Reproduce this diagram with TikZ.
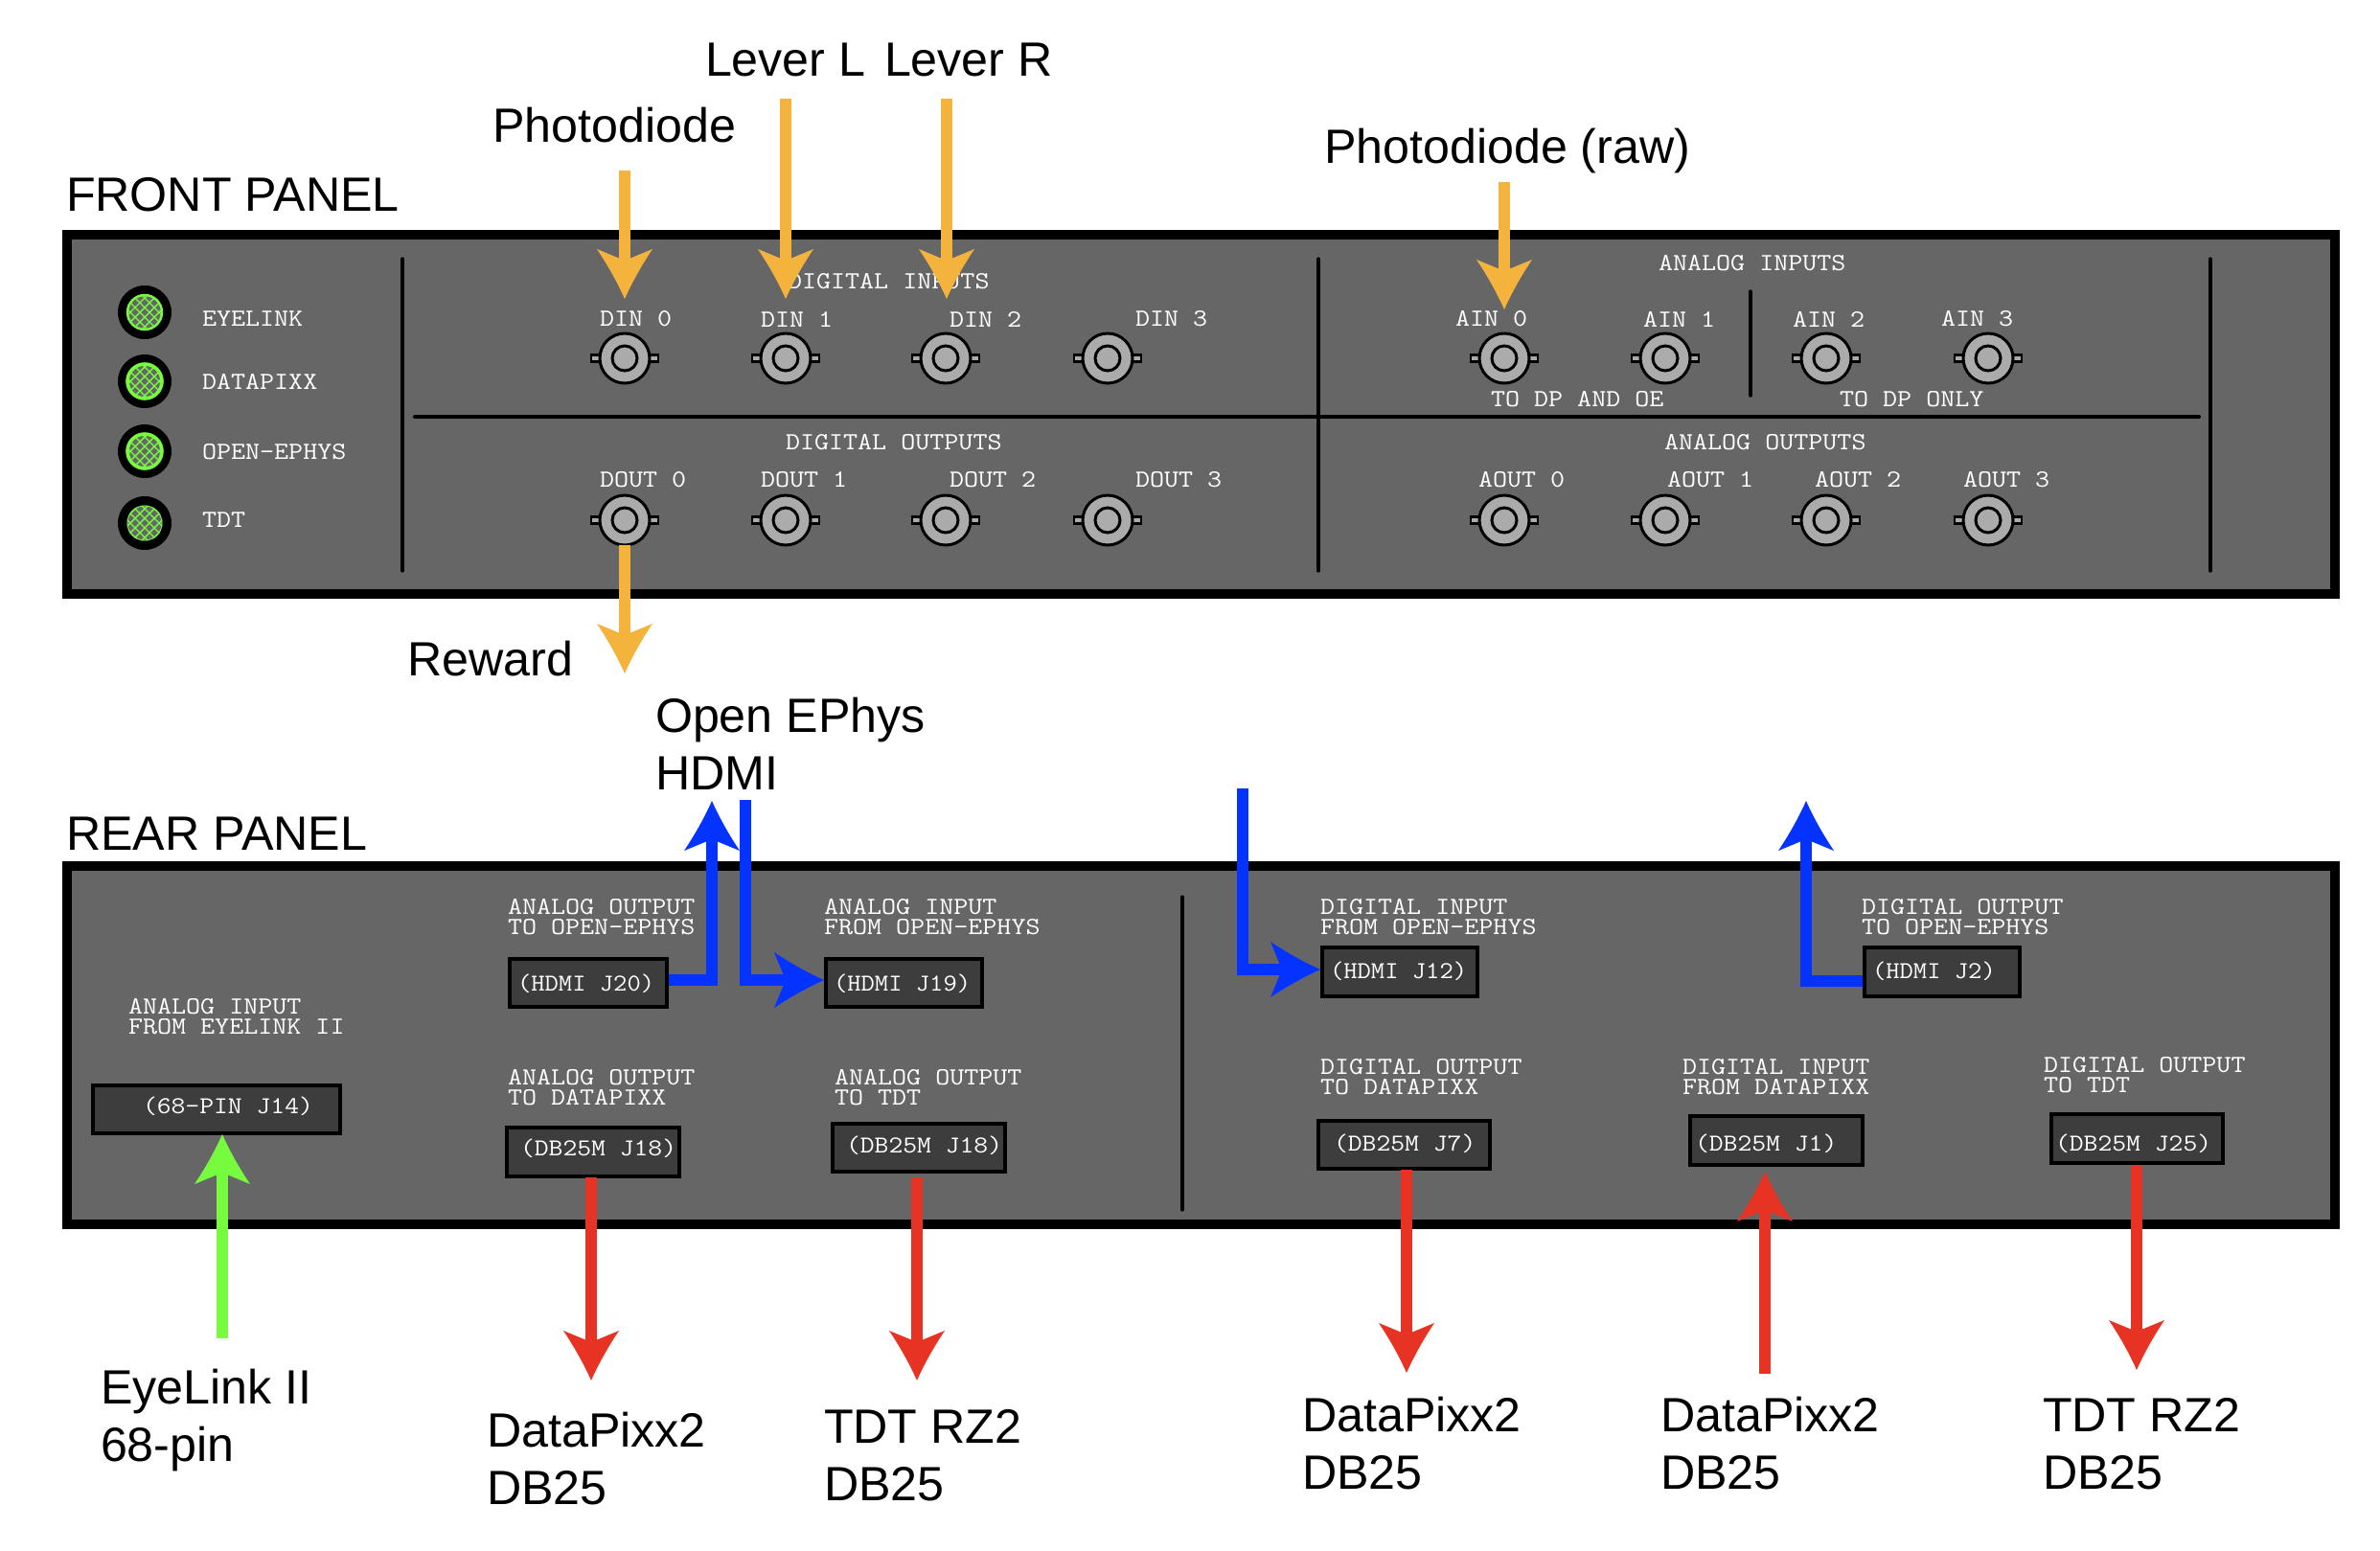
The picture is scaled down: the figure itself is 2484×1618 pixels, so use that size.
\documentclass[tikz,border=0pt]{standalone}
\usepackage{fontspec}
\usepackage{graphicx}
\setmainfont{Liberation Sans}
\usetikzlibrary{arrows.meta}
\definecolor{panelgray}{HTML}{666666}
\definecolor{jackgray}{HTML}{3D3D3D}
\definecolor{bncgray}{HTML}{ABABAB}
\definecolor{sigorange}{HTML}{F4B33D}
\definecolor{sigblue}{HTML}{0433FF}
\definecolor{sigred}{HTML}{E63323}
\definecolor{siggreen}{HTML}{76FB3F}
\pgfdeclarearrow{
  name=Vane,
  setup code={
    \pgfarrowssettipend{0pt}
    \pgfarrowssetbackend{-26pt}
    \pgfarrowssetvisualbackend{-20pt}
    \pgfarrowssetlineend{-15pt}
    \pgfarrowshullpoint{0pt}{0pt}
    \pgfarrowshullpoint{-26pt}{14.5pt}
    \pgfarrowshullpoint{-26pt}{-14.5pt}
  },
  drawing code={
    \pgfpathmoveto{\pgfpoint{0pt}{0pt}}
    \pgfpathquadraticcurveto{\pgfpoint{-13pt}{5.8pt}}{\pgfpoint{-26pt}{14.5pt}}
    \pgfpathlineto{\pgfpoint{-20pt}{0pt}}
    \pgfpathlineto{\pgfpoint{-26pt}{-14.5pt}}
    \pgfpathquadraticcurveto{\pgfpoint{-13pt}{-5.8pt}}{\pgfpoint{0pt}{0pt}}
    \pgfpathclose
    \pgfusepathqfill
  }
}
\newcommand\monotxt[1]{\scalebox{1}[0.88]{\ttfamily\fontsize{14.6}{14.6}\selectfont #1}}
\newcommand\jacktxt[1]{\scalebox{1}[0.88]{\ttfamily\fontsize{14.4}{14.4}\selectfont #1}}
\newcommand\hdmitxt[1]{\scalebox{0.965}[0.88]{\ttfamily\fontsize{14.4}{14.4}\selectfont #1}}
\newcommand\monotwo[2]{\vbox{\baselineskip=10.5pt\lineskiplimit=-100pt\hbox{\monotxt{#1}}\hbox{\monotxt{#2}}}}
\newcommand\bigtwo[2]{\vbox{\baselineskip=30pt\lineskiplimit=-100pt\hbox{#1}\hbox{#2}}}
\tikzset{
  panelbox/.style={draw=black,fill=panelgray,line width=5pt,line join=miter},
  divider/.style={draw=black,line width=1.6pt,line cap=round},
  monolabel/.style={anchor=west,inner sep=0pt,outer sep=0pt,text=white,xshift=-0.5pt},
  biglabel/.style={anchor=base west,inner sep=0pt,outer sep=0pt,text=black,xshift=-1pt,font=\fontsize{25.1}{30}\selectfont},
  jackbox/.style={draw=black,fill=jackgray,line width=1.8pt,inner sep=0pt,outer sep=0pt,rectangle},
  bncouter/.style={circle,draw=black,fill=bncgray,line width=1.5pt,minimum size=26pt,inner sep=0pt,outer sep=0pt},
  bncinner/.style={circle,draw=black,fill=bncgray,line width=1.5pt,minimum size=13pt,inner sep=0pt,outer sep=0pt},
  bncear/.style={draw=black,fill=bncgray,line width=1.2pt},
  ledring/.style={circle,fill=black,minimum size=28pt,inner sep=0pt,outer sep=0pt},
  sig/.style={line width=6.35pt,-Vane,line join=miter,line cap=butt},
  orangesig/.style={sig,draw=sigorange},
  bluesig/.style={sig,draw=sigblue},
  redsig/.style={sig,draw=sigred},
  greensig/.style={sig,draw=siggreen},
}
% name, x, y
\newcommand\bnc[3]{%
  \draw[bncear] (#2-35,#3-3.5) rectangle (#2+35,#3+3.5);
  \node[bncouter] (#1) at (#2,#3) {};
  \node[bncinner] (#1i) at (#1) {};
}
% name, y, outline width
\newcommand\led[3]{%
  \node[ledring] (#1) at (151,#2) {};
  \begin{scope}[shift={(151,#2)}]
    \begin{scope}
      \clip (0,0) circle[radius=18.5];
      \fill[panelgray] (-20,-20) rectangle (20,20);
      \foreach \d in {-45,-35,...,45} {
        \draw[siggreen,line width=0.7pt] (\d-20,-20) -- (\d+20,20);
        \draw[siggreen,line width=0.7pt] (\d-20,20) -- (\d+20,-20);
      }
    \end{scope}
    \draw[siggreen,line width=#3] (0,0) circle[radius=18];
  \end{scope}
}
% name, x1, y1, x2, y2, text x, text y, text
\newcommand\jack[8]{%
  \pgfmathsetlengthmacro\jw{(#4-#2-4)*0.5pt}%
  \pgfmathsetlengthmacro\jh{(#5-#3-4)*0.5pt}%
  \node[jackbox,minimum width=\jw,minimum height=\jh] (#1) at ({(#2+#4)/2},{(#3+#5)/2}) {};
  \node[monolabel] (#1t) at (#6-2,#7) {#8};
}
\begin{document}
\begin{tikzpicture}[x=0.5pt,y=-0.5pt]
\useasboundingbox (0,0) rectangle (2484,1618);
\fill[white] (0,0) rectangle (2484,1618);
% panels
\draw[panelbox] (70,245) rectangle (2437,620);
\draw[panelbox] (70,904) rectangle (2437,1278);
% front dividers
\draw[divider] (420,270) -- (420,596);
\draw[divider] (1376,270) -- (1376,596);
\draw[divider] (2307,270) -- (2307,596);
\draw[divider] (1827,304) -- (1827,413);
\draw[divider,line width=2pt] (433,435) -- (2295,435);
\draw[divider] (1234,936) -- (1234,1263);
% LEDs
\led{ledA}{326}{1.2pt}
\led{ledB}{398}{1.8pt}
\led{ledC}{471}{1.8pt}
\led{ledD}{546}{0.4pt}
\node[monolabel] (lA) at (212,333) {\monotxt{EYELINK}};
\node[monolabel] (lB) at (212,398) {\monotxt{DATAPIXX}};
\node[monolabel] (lC) at (212,472) {\monotxt{OPEN-EPHYS}};
\node[monolabel] (lD) at (212,543) {\monotxt{TDT}};
% BNC connectors
\bnc{din0}{652}{374}\bnc{din1}{820}{374}\bnc{din2}{987}{374}\bnc{din3}{1156}{374}
\bnc{dout0}{652}{543}\bnc{dout1}{820}{543}\bnc{dout2}{987}{543}\bnc{dout3}{1156}{543}
\bnc{ain0}{1570}{374}\bnc{ain1}{1738}{374}\bnc{ain2}{1906}{374}\bnc{ain3}{2075}{374}
\bnc{aout0}{1570}{543}\bnc{aout1}{1738}{543}\bnc{aout2}{1906}{543}\bnc{aout3}{2075}{543}
% front labels
\node[monolabel] (tdi) at (823,294) {\monotxt{DIGITAL INPUTS}};
\node[monolabel] (tdo) at (821,462) {\monotxt{DIGITAL OUTPUTS}};
\node[monolabel] (tai) at (1732,275) {\monotxt{ANALOG INPUTS}};
\node[monolabel] (tao) at (1738,462) {\monotxt{ANALOG OUTPUTS}};
\node[monolabel] (tdin0) at (627,333) {\monotxt{DIN 0}};
\node[monolabel] (tdin1) at (795,333) {\monotxt{DIN 1}};
\node[monolabel] (tdin2) at (992,333) {\monotxt{DIN 2}};
\node[monolabel] (tdin3) at (1186,333) {\monotxt{DIN 3}};
\node[monolabel] (tdout0) at (627,501) {\monotxt{DOUT 0}};
\node[monolabel] (tdout1) at (795,501) {\monotxt{DOUT 1}};
\node[monolabel] (tdout2) at (992,501) {\monotxt{DOUT 2}};
\node[monolabel] (tdout3) at (1186,501) {\monotxt{DOUT 3}};
\node[monolabel] (tain0) at (1520,333) {\monotxt{AIN 0}};
\node[monolabel] (tain1) at (1716,333) {\monotxt{AIN 1}};
\node[monolabel] (tain2) at (1872,333) {\monotxt{AIN 2}};
\node[monolabel] (tain3) at (2027,333) {\monotxt{AIN 3}};
\node[monolabel] (tdpoe) at (1557,417) {\monotxt{TO DP AND OE}};
\node[monolabel] (tdpon) at (1921,417) {\monotxt{TO DP ONLY}};
\node[monolabel] (taout0) at (1544,501) {\monotxt{AOUT 0}};
\node[monolabel] (taout1) at (1741,501) {\monotxt{AOUT 1}};
\node[monolabel] (taout2) at (1895,501) {\monotxt{AOUT 2}};
\node[monolabel] (taout3) at (2050,501) {\monotxt{AOUT 3}};
% rear labels
\node[monolabel] (r1) at (135,1061) {\monotwo{ANALOG INPUT}{FROM EYELINK II}};
\node[monolabel] (r2) at (531,957.5) {\monotwo{ANALOG OUTPUT}{TO OPEN-EPHYS}};
\node[monolabel] (r3) at (861,957.5) {\monotwo{ANALOG INPUT}{FROM OPEN-EPHYS}};
\node[monolabel] (r4) at (531,1135) {\monotwo{ANALOG OUTPUT}{TO DATAPIXX}};
\node[monolabel] (r5) at (872,1135) {\monotwo{ANALOG OUTPUT}{TO TDT}};
\node[monolabel] (r6) at (1379,957) {\monotwo{DIGITAL INPUT}{FROM OPEN-EPHYS}};
\node[monolabel] (r7) at (1944,957) {\monotwo{DIGITAL OUTPUT}{TO OPEN-EPHYS}};
\node[monolabel] (r8) at (1379,1124) {\monotwo{DIGITAL OUTPUT}{TO DATAPIXX}};
\node[monolabel] (r9) at (1757,1124) {\monotwo{DIGITAL INPUT}{FROM DATAPIXX}};
\node[monolabel] (r10) at (2134,1122) {\monotwo{DIGITAL OUTPUT}{TO TDT}};
% rear jacks
\jack{j14}{95}{1131}{357}{1185}{152}{1155}{\jacktxt{(68-PIN J14)}}
\jack{j20}{530}{999}{698}{1053}{543}{1027}{\hdmitxt{(HDMI J20)}}
\jack{j19}{860}{999}{1027}{1053}{873}{1027}{\hdmitxt{(HDMI J19)}}
\jack{j18a}{527}{1175}{711}{1230}{546}{1199}{\jacktxt{(DB25M J18)}}
\jack{j18b}{867}{1171}{1051}{1225}{886}{1196}{\jacktxt{(DB25M J18)}}
\jack{j12}{1378}{987}{1544}{1042}{1391}{1014}{\hdmitxt{(HDMI J12)}}
\jack{j2}{1944}{987}{2110}{1042}{1957}{1014}{\hdmitxt{(HDMI J2)}}
\jack{j7}{1374}{1168}{1557}{1222}{1395}{1194}{\jacktxt{(DB25M J7)}}
\jack{j1}{1762}{1163}{1946}{1218}{1772}{1194}{\jacktxt{(DB25M J1)}}
\jack{j25}{2139}{1161}{2322}{1216}{2148}{1194}{\jacktxt{(DB25M J25)}}
% big labels
\node[biglabel] (front) at (71,220) {FRONT PANEL};
\node[biglabel] (rear) at (71,887) {REAR PANEL};
\node[biglabel] (photo) at (516,148) {Photodiode};
\node[biglabel] (levl) at (738,79) {Lever L};
\node[biglabel] (levr) at (925,79) {Lever R};
\node[biglabel] (raw) at (1384,170) {Photodiode (raw)};
\node[biglabel] (reward) at (427,705) {Reward};
\node[biglabel] (oe) at (686,824) {\bigtwo{Open EPhys}{HDMI}};
\node[biglabel] (eye) at (107,1525) {\bigtwo{EyeLink II}{68-pin}};
\node[biglabel] (dp1) at (510,1570) {\bigtwo{DataPixx2}{DB25}};
\node[biglabel] (tdt1) at (862,1566) {\bigtwo{TDT RZ2}{DB25}};
\node[biglabel] (dp2) at (1361,1554) {\bigtwo{DataPixx2}{DB25}};
\node[biglabel] (dp3) at (1735,1554) {\bigtwo{DataPixx2}{DB25}};
\node[biglabel] (tdt2) at (2134,1554) {\bigtwo{TDT RZ2}{DB25}};
% connector end points
\coordinate (pdS) at (652,178);   \coordinate (pdE) at (652,312);
\coordinate (llS) at (820,103);   \coordinate (llE) at (820,312);
\coordinate (lrS) at (988,103);   \coordinate (lrE) at (988,312);
\coordinate (rawS) at (1570,190); \coordinate (rawE) at (1570,323);
\coordinate (rwE) at (652,703);
\coordinate (b1S) at (698,1023);  \coordinate (b1M) at (743,1023);  \coordinate (b1E) at (743,836);
\coordinate (b2S) at (778,835);   \coordinate (b2M) at (778,1023);  \coordinate (b2E) at (860,1023);
\coordinate (b3S) at (1297,823);  \coordinate (b3M) at (1297,1012); \coordinate (b3E) at (1378,1012);
\coordinate (b4S) at (1944,1024); \coordinate (b4M) at (1885,1024); \coordinate (b4E) at (1885,836);
\coordinate (gS) at (232,1397);   \coordinate (gE) at (232,1184);
\coordinate (r1S) at (617,1229);  \coordinate (r1E) at (617,1441);
\coordinate (r2S) at (957,1229);  \coordinate (r2E) at (957,1441);
\coordinate (r3S) at (1468,1221); \coordinate (r3E) at (1468,1433);
\coordinate (r4S) at (1842,1434); \coordinate (r4E) at (1842,1223);
\coordinate (r5S) at (2230,1217); \coordinate (r5E) at (2230,1430);
% connectors
\draw[orangesig] (pdS) -- (pdE);
\draw[orangesig] (llS) -- (llE);
\draw[orangesig] (lrS) -- (lrE);
\draw[orangesig] (rawS) -- (rawE);
\draw[orangesig] (dout0.south) -- (rwE);
\draw[bluesig] (b1S) -- (b1M) -- (b1E);
\draw[bluesig] (b2S) -- (b2M) -- (b2E);
\draw[bluesig] (b3S) -- (b3M) -- (b3E);
\draw[bluesig] (b4S) -- (b4M) -- (b4E);
\draw[greensig] (gS) -- (gE);
\draw[redsig] (r1S) -- (r1E);
\draw[redsig] (r2S) -- (r2E);
\draw[redsig] (r3S) -- (r3E);
\draw[redsig] (r4S) -- (r4E);
\draw[redsig] (r5S) -- (r5E);
\end{tikzpicture}
\end{document}
